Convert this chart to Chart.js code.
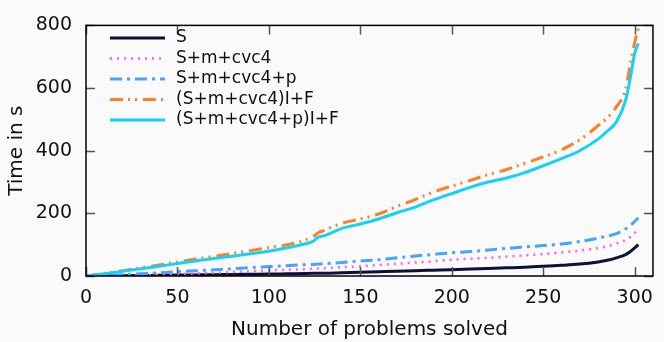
<!DOCTYPE html>
<html>
<head>
<meta charset="utf-8">
<script src="https://cdn.jsdelivr.net/npm/chart.js@4/dist/chart.umd.min.js"></script>
<style>
  html, body { margin: 0; padding: 0; background: #fafafa; }
  #wrap { width: 664px; height: 342px; position: relative; }
</style>
</head>
<body>
<div id="wrap"><canvas id="c"></canvas></div>
<script>
// ---- data ----
const problems = [0,10,20,30,40,50,60,70,80,90,100,110,120,124,127,130,140,150,160,170,180,190,200,210,220,230,240,250,260,270,280,285,290,295,298,300,302];
const seriesLabels = ['S', 'S+m+cvc4', 'S+m+cvc4+p', '(S+m+cvc4)I+F', '(S+m+cvc4+p)I+F'];
const timeS      = [0,0.5,1,1.5,2,3,3.5,4,5,5.5,6,7,8,8.5,9,9,10.5,12,13.5,15,17,18.5,20,22,24,26,28,31,34,38,45,50,58,68,80,90,100];
const timeSm     = [0,0.5,1,2,3.5,6,8,10,12.5,15,18,20,22,23,24,25,28,31,35,39,43,47,52,55,58,62,66,70,75,81,89,95,103,115,126,137,147];
const timeSmp    = [0,2,4,7,10,14,17,20,23,27,30,33,36,37,38,39,43,48,52,58,64,69,74,78,83,88,93,97,102,110,121,127,135,150,163,174,186];
const timeSmIF   = [0,8,17,26,35,45,54,63,72,81,91,100,115,125,138,145,168,182,198,222,244,268,287,305,324,340,360,380,403,435,480,505,540,595,690,745,790];
const timeSmpIF  = [0,7,15,23,31,40,48,56,63,71,79,90,103,110,124,128,152,166,182,202,220,243,263,283,300,313,330,352,375,400,437,462,492,560,645,711,742];
const xTickValues = [0,50,100,150,200,250,300];
const yTickValues = [0,200,400,600,800];
const xTitle = 'Number of problems solved';
const yTitle = 'Time in s';

const FONT = 'DejaVu Sans';
const pts = ys => problems.map((x, i) => ({x: x, y: ys[i]}));

const styles = [
  {color: '#0b1236', dash: [], width: 3},
  {color: '#ff5cf0', dash: [2, 5], width: 2.5},
  {color: '#47a3ff', dash: [12, 5, 3, 5], width: 3},
  {color: '#ff7f27', dash: [13, 5, 2, 5, 2, 6], width: 3},
  {color: '#12d3f5', dash: [], width: 3}
];
const allValues = [timeS, timeSm, timeSmp, timeSmIF, timeSmpIF];

const datasets = allValues.map((vals, i) => ({
  label: seriesLabels[i],
  data: pts(vals),
  borderColor: styles[i].color,
  backgroundColor: styles[i].color,
  borderDash: styles[i].dash,
  borderWidth: styles[i].width,
  borderCapStyle: 'butt',
  pointRadius: 0,
  fill: false,
  cubicInterpolationMode: 'monotone',
  order: 5 - i
}));

const framePlugin = {
  id: 'frame',
  afterDatasetsDraw(chart) {
    const {ctx, chartArea: a, scales: {x, y}} = chart;
    ctx.save();
    ctx.setLineDash([]);
    ctx.strokeStyle = '#555';
    ctx.lineWidth = 1.5;
    const L = 9;
    ctx.beginPath();
    xTickValues.forEach(v => {
      const px = Math.round(x.getPixelForValue(v)) + 0.5;
      ctx.moveTo(px, a.bottom); ctx.lineTo(px, a.bottom - L);
      ctx.moveTo(px, a.top); ctx.lineTo(px, a.top + L);
    });
    yTickValues.forEach(v => {
      const py = Math.round(y.getPixelForValue(v)) + 0.5;
      ctx.moveTo(a.left, py); ctx.lineTo(a.left + L, py);
      ctx.moveTo(a.right, py); ctx.lineTo(a.right - L, py);
    });
    ctx.stroke();
    ctx.strokeStyle = '#000';
    ctx.lineWidth = 1.5;
    ctx.strokeRect(a.left, a.top, a.right - a.left, a.bottom - a.top);

    // legend
    ctx.font = '17px "' + FONT + '"';
    ctx.textBaseline = 'middle';
    ctx.textAlign = 'left';
    chart.data.datasets.forEach((ds, i) => {
      const yy = 38 + i * 20.5;
      ctx.beginPath();
      ctx.strokeStyle = ds.borderColor;
      ctx.lineWidth = ds.borderWidth;
      ctx.lineCap = 'butt';
      ctx.setLineDash(ds.borderDash);
      ctx.moveTo(110, yy); ctx.lineTo(165, yy);
      ctx.stroke();
      ctx.setLineDash([]);
      ctx.fillStyle = '#111';
      ctx.fillText(ds.label, 176, yy);
    });
    ctx.restore();
  }
};

new Chart(document.getElementById('c'), {
  type: 'line',
  data: { datasets },
  options: {
    responsive: true,
    maintainAspectRatio: false,
    animation: false,
    layout: { padding: { top: 18, right: 6, left: 0, bottom: 0 } },
    plugins: { legend: { display: false }, tooltip: { enabled: false } },
    scales: {
      x: {
        type: 'linear', min: 0, max: 310,
        afterBuildTicks: s => { s.ticks = xTickValues.map(v => ({value: v})); },
        afterFit: s => { s.height = 66; },
        grid: { display: false, drawTicks: false },
        border: { display: false },
        ticks: { color: '#111', font: { family: FONT, size: 19 }, padding: 11, maxRotation: 0, autoSkip: false },
        title: { display: true, text: xTitle, color: '#111', font: { family: FONT, size: 20 }, padding: { top: 0, bottom: 0 } }
      },
      y: {
        type: 'linear', min: 0, max: 800,
        afterBuildTicks: s => { s.ticks = yTickValues.map(v => ({value: v})); },
        afterFit: s => { s.width = 86; },
        grid: { display: false, drawTicks: false },
        border: { display: false },
        ticks: { color: '#111', font: { family: FONT, size: 19 }, padding: 14 },
        title: { display: true, text: yTitle, color: '#111', font: { family: FONT, size: 20 }, padding: { top: 5, bottom: 0 } }
      }
    }
  },
  plugins: [framePlugin]
});
</script>
</body>
</html>
